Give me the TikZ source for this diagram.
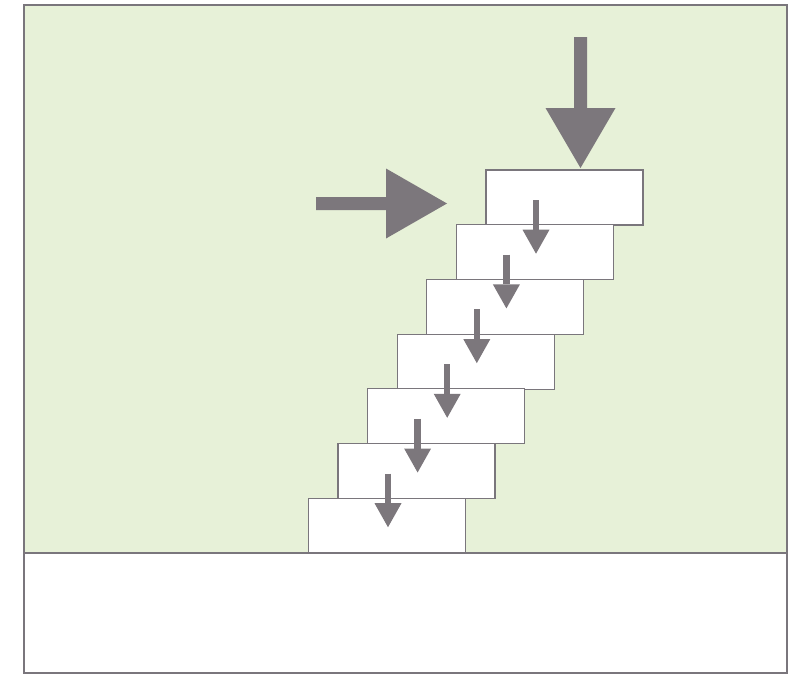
\documentclass[tikz,border=0pt]{standalone}
\usetikzlibrary{calc,arrows.meta}
\definecolor{bggreen}{RGB}{231,241,216}
\definecolor{framegray}{RGB}{122,118,124}
\definecolor{arrowgray}{RGB}{124,119,124}
\begin{document}
\begin{tikzpicture}[x=1pt,y=-1pt,
  block/.style={draw=framegray,line width=1.2pt,fill=white,rectangle,anchor=north west,
    minimum width=157pt,minimum height=55pt,inner sep=0pt,outer sep=0pt},
  smallarrow/.style={draw=arrowgray,line width=6.5pt,
    -{Triangle[length=24pt,width=27pt,line width=0pt]}},
  bigfill/.style={fill=arrowgray}]
\useasboundingbox (0,0) rectangle (798,680);
\fill[white] (0,0) rectangle (798,680);
% background regions
\fill[bggreen] (24,5) rectangle (787,553);
\fill[white] (24,553) rectangle (787,673);
% blocks
\foreach \i in {1,...,7}{
  \node[block] (b\i) at ({486-29.6*(\i-1)},{170+54.7*(\i-1)}) {};
}
% small arrows
\foreach \i/\j in {1/2,2/3,3/4,4/5,5/6,6/7}{
  \coordinate (s\i) at ($(b\i.north west)+(50,30)$);
  \coordinate (t\i) at ($(b\j.north west)+(0,29)$);
  \draw[smallarrow] (s\i) -- (s\i |- t\i);
}
% big down arrow
\coordinate (dtip) at ($(b1.north west)+(94.5,-2)$);
\fill[arrowgray] ($(dtip)+(-6.5,-131)$) -- ($(dtip)+(6.5,-131)$) -- ($(dtip)+(6.5,-60)$)
  -- ($(dtip)+(35,-60)$) -- (dtip) -- ($(dtip)+(-35,-60)$) -- ($(dtip)+(-6.5,-60)$) -- cycle;
% big right arrow
\coordinate (rtip) at (447,203.5);
\fill[arrowgray] ($(rtip)+(-131,-6.5)$) -- ($(rtip)+(-61,-6.5)$) -- ($(rtip)+(-61,-35)$)
  -- (rtip) -- ($(rtip)+(-61,35)$) -- ($(rtip)+(-61,6.5)$) -- ($(rtip)+(-131,6.5)$) -- cycle;
% frame and divider
\draw[framegray,line width=2.5pt] (24,5) rectangle (787,673);
\draw[framegray,line width=2.5pt] (24,553) -- (787,553);
\end{tikzpicture}
\end{document}
